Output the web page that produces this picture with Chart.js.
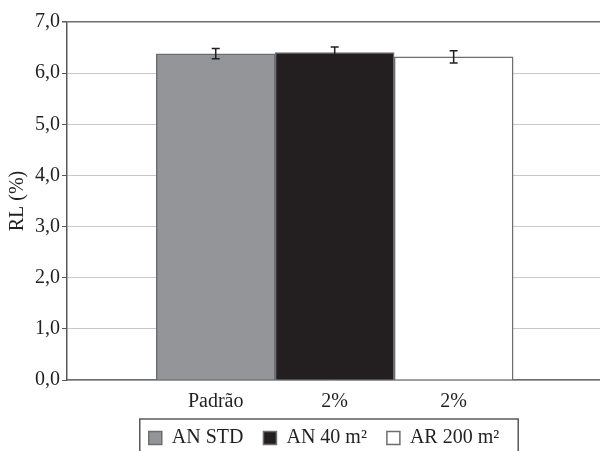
<!DOCTYPE html>
<html>
<head>
<meta charset="utf-8">
<script src="https://cdn.jsdelivr.net/npm/chart.js@4/dist/chart.umd.min.js"></script>
<style>
  html, body { margin: 0; padding: 0; background: #fff; overflow: hidden; }
</style>
</head>
<body>
<canvas id="myChart" width="600" height="451"></canvas>
<script>
const categories = ['Padrão', '2%', '2%'];
const seriesNames = ['AN STD', 'AN 40 m²', 'AR 200 m²'];
const rlValues = [6.38, 6.40, 6.32];
const rlErrors = [0.10, 0.11, 0.12];
const yTicks = [0, 1, 2, 3, 4, 5, 6, 7];
const barColors = ['#939598', '#231f20', '#ffffff'];

const serif = "'Liberation Serif', 'Times New Roman', serif";
const ink = '#231f20';

// one dataset per series, each sitting in its own slot on the x axis
const dataset = seriesNames.map(function(name, i){
  return {
    label: name,
    data: [{x: i + 1, y: rlValues[i]}],
    backgroundColor: barColors[i],
    borderColor: '#6d6e71',
    borderWidth: 1.5,
    borderSkipped: 'bottom',
    grouped: false,
    barPercentage: 1,
    categoryPercentage: 1
  };
});

// error bars drawn on top of each bar
const errorBars = {
  id: 'errorBars',
  afterDatasetsDraw(chart){
    const ctx = chart.ctx, ys = chart.scales.y;
    ctx.save();
    ctx.strokeStyle = ink;
    ctx.lineWidth = 1.5;
    chart.data.datasets.forEach(function(ds, i){
      const el = chart.getDatasetMeta(i).data[0];
      if(!el) return;
      const hi = ys.getPixelForValue(rlValues[i] + rlErrors[i]);
      const lo = ys.getPixelForValue(rlValues[i] - rlErrors[i]);
      ctx.beginPath();
      ctx.moveTo(el.x, hi); ctx.lineTo(el.x, lo);
      ctx.moveTo(el.x - 4, hi); ctx.lineTo(el.x + 4, hi);
      ctx.moveTo(el.x - 4, lo); ctx.lineTo(el.x + 4, lo);
      ctx.stroke();
    });
    ctx.restore();
  }
};

// legend: fixed height, nudged right and up, with a frame round it
const legendFrame = {
  id: 'legendFrame',
  afterInit(chart){
    const lg = chart.legend;
    const fit = lg.fit.bind(lg);
    lg.fit = function(){ fit(); this.height = 33; };
  },
  afterLayout(chart){
    const lg = chart.legend;
    lg.left += 24; lg.right += 24;
    lg.top -= 10;
  },
  afterDraw(chart){
    const boxes = chart.legend.legendHitBoxes;
    if(!boxes || !boxes.length) return;
    const first = boxes[0], last = boxes[boxes.length - 1];
    const ctx = chart.ctx;
    ctx.save();
    ctx.strokeStyle = '#58595b';
    ctx.lineWidth = 1.5;
    ctx.strokeRect(first.left - 9, first.top - 9, last.left + last.width + 28 - first.left, first.height + 30);
    ctx.restore();
  }
};

const config = {
  type: 'bar',
  data: { datasets: dataset },
  options: {
    responsive: false,
    devicePixelRatio: 1,
    animation: false,
    layout: { padding: { top: 22, right: 0, left: 0, bottom: 0 } },
    plugins: {
      tooltip: { enabled: false },
      legend: {
        position: 'bottom',
        labels: {
          font: { family: serif, size: 20 },
          color: ink,
          boxWidth: 13,
          boxHeight: 13,
          padding: 20
        }
      }
    },
    scales: {
      x: {
        type: 'linear',
        offset: false,
        min: -0.25,
        max: 4.23,
        afterFit: function(s){ s.height = 38; },
        afterBuildTicks: function(s){
          s.ticks = categories.map(function(c, i){ return {value: i + 1}; });
        },
        grid: { display: false, offset: false },
        border: { display: true, color: '#6d6e71', width: 1.5 },
        ticks: {
          autoSkip: false,
          maxRotation: 0,
          padding: 2,
          color: ink,
          font: { family: serif, size: 20 },
          callback: function(v){ return categories[v - 1]; }
        }
      },
      y: {
        min: 0,
        max: 7,
        afterFit: function(s){ s.width = 67; },
        afterBuildTicks: function(s){
          s.ticks = yTicks.map(function(v){ return {value: v}; });
        },
        grid: {
          color: function(c){ return c.tick && c.tick.value === 7 ? '#6d6e71' : '#c7c8ca'; },
          lineWidth: function(c){ return c.tick && c.tick.value === 7 ? 1.5 : 1; },
          tickColor: '#58595b',
          tickLength: 5
        },
        border: { display: true, color: '#58595b', width: 1.5 },
        ticks: {
          padding: 2,
          color: ink,
          font: { family: serif, size: 20 },
          callback: function(v){ return v.toFixed(1).replace('.', ','); }
        },
        title: {
          display: true,
          text: 'RL (%)',
          color: ink,
          font: { family: serif, size: 20 },
          padding: { top: 6, bottom: 0 }
        }
      }
    }
  },
  plugins: [errorBars, legendFrame]
};

const myChart = new Chart(document.getElementById('myChart'), config);
</script>
</body>
</html>
